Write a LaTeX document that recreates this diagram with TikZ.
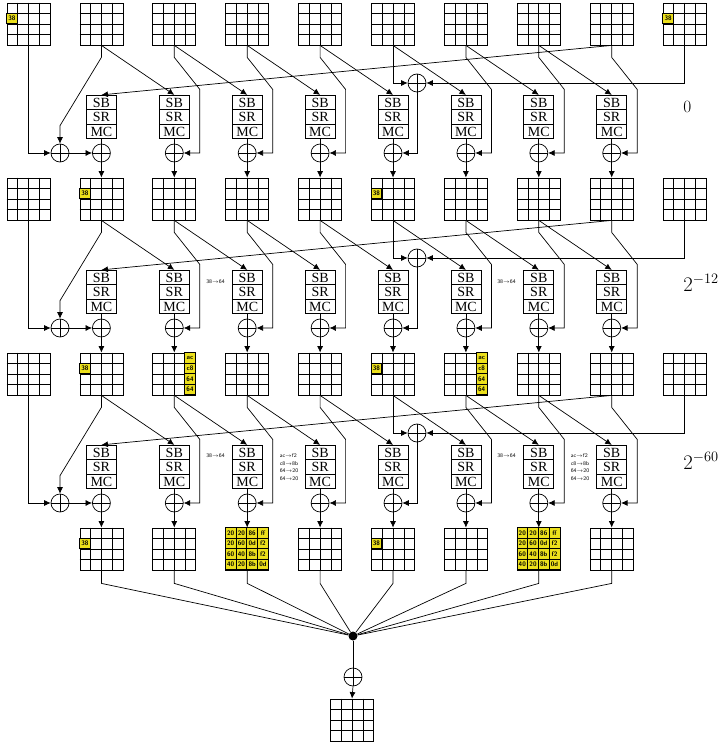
\documentclass[tikz,border=0pt]{standalone}
\usepackage{amsmath}
\usepackage{fontspec}
\newfontfamily\sbfont{Liberation Serif}
\usetikzlibrary{arrows.meta,calc,shapes.multipart}
\definecolor{hot}{RGB}{236,224,28}
% a 4x4 state word: name, x, y
\newcommand{\stategrid}[3]{%
  \node[wordbox] (#1) at (#2,#3) {};
  \foreach \i in {1,2,3} {
    \draw ($(#1.north west)!\i/4!(#1.north east)$) -- ($(#1.south west)!\i/4!(#1.south east)$);
    \draw ($(#1.north west)!\i/4!(#1.south west)$) -- ($(#1.north east)!\i/4!(#1.south east)$);
  }}
% an active byte: grid, row, column, value
\newcommand{\hotcell}[4]{\node[hotbyte] (#1-#2#3) at ($(#1.north west)+(#3*10.75+5.375,#2*10.5+5.25)$) {#4};}
\tikzset{
  flow/.style={>={Latex[length=6.5pt,width=6pt]},line width=0.7pt},
  wordbox/.style={draw,line width=0.8pt,minimum width=43pt,minimum height=42pt,inner sep=0pt},
  hotbyte/.style={draw,line width=0.8pt,fill=hot,minimum width=10.75pt,minimum height=10.5pt,
    inner sep=0pt,font=\sffamily\bfseries\fontsize{6.5}{6.5}\selectfont},
  sbox/.style={draw,rectangle split,rectangle split parts=3,minimum width=30pt,
    inner ysep=2.2pt,inner xsep=2pt,fill=white,font=\sbfont\fontsize{14}{16}\selectfont},
  xorop/.style={draw,circle,fill=white,minimum size=18pt,inner sep=0pt,
    path picture={\draw (path picture bounding box.north)--(path picture bounding box.south)
      (path picture bounding box.west)--(path picture bounding box.east);}},
  note/.style={font=\sffamily\fontsize{5.5}{7.6}\selectfont,align=left,inner sep=0.5pt,fill=white},
  prob/.style={font=\huge,anchor=base west,inner sep=0pt},
}

\begin{document}
\begin{tikzpicture}[flow,x=1pt,y=-1pt]
\useasboundingbox (0,0) rectangle (722,743);
% state words
\foreach \r in {0,1,2} \foreach \k in {0,...,9} \stategrid{g\r-\k}{28.5+72.9*\k}{24+175*\r};
\foreach \k in {1,...,8} \stategrid{g3-\k}{28.5+72.9*\k}{549};
\stategrid{gf}{352}{720}
% rounds
\foreach \r in {0,1,2} {
  \pgfmathsetmacro\ty{3+175*\r}
  \pgfmathtruncatemacro\rn{\r+1}
  \foreach \k in {1,...,8} {
    \node[sbox] (sb\r-\k) at (28.5+72.9*\k,\ty+114) {SB\nodepart{two}SR\nodepart{three}MC};
    \node[xorop] (x\r-\k) at (28.5+72.9*\k,\ty+150) {};
  }
  \node[xorop] (x\r-0) at (60,\ty+150) {};
  \node[xorop] (xm\r) at (417,\ty+80) {};
  \draw[->] (g\r-0.south) |- (x\r-0.west);
  \draw[->] (g\r-1.south) -- ++(0,12) -- ($(x\r-0.north)+(0,-18)$) -- (x\r-0.north);
  \draw[->] (x\r-0.east) -- (x\r-1.west);
  \foreach \k [evaluate=\k as \j using int(\k+1)] in {1,...,7} \draw[->] (g\r-\k.south) -- (sb\r-\j.north);
  \draw[->] (g\r-8.south) -- (sb\r-1.north);
  \foreach \k in {2,3,4,6,7,8} \draw[->] (g\r-\k.south) -- ++(0,12) -- ++(25.5,32) |- (x\r-\k.east);
  \draw[->] (g\r-5.south) |- (xm\r.west);
  \draw[->] (g\r-9.south) |- (xm\r.east);
  \draw[->] (xm\r.south) |- (x\r-5.east);
  \foreach \k in {1,...,8} {
    \draw (sb\r-\k.south) -- (x\r-\k.north);
    \draw[->] (x\r-\k.south) -- (g\rn-\k.north);
  }
}
% active bytes
\foreach \g in {g0-0,g0-9,g1-1,g1-5,g2-1,g2-5,g3-1,g3-5} \hotcell{\g}{1}{0}{38}
\foreach \g in {g2-2,g2-6} \foreach \v [count=\q from 0] in {ac,c8,64,64} \hotcell{\g}{\q}{3}{\v}
\foreach \g in {g3-3,g3-7} \foreach \pa/\pb/\pc/\pd [count=\q from 0] in
  {20/20/86/ff,20/60/0d/f2,60/40/8b/f2,40/20/8b/0d} {
  \hotcell{\g}{\q}{0}{\pa}\hotcell{\g}{\q}{1}{\pb}\hotcell{\g}{\q}{2}{\pc}\hotcell{\g}{\q}{3}{\pd}
}
% S-box transitions
\node[note] (n1a) at (215.5,281.5) {38$\to$64};
\node[note] (n1b) at (506.5,281.5) {38$\to$64};
\node[note] (n2a) at (215.5,456) {38$\to$64};
\node[note] (n2b) at (506.5,456) {38$\to$64};
\node[note,anchor=north] (n2c) at (289,453) {ac$\to$f2\\c8$\to$8b\\64$\to$20\\64$\to$20};
\node[note,anchor=north] (n2d) at (580,453) {ac$\to$f2\\c8$\to$8b\\64$\to$20\\64$\to$20};
% probabilities
\node[prob,font=\LARGE] (p0) at (683,113) {$0$};
\node[prob] (p1) at (683,291) {$2^{-12}$};
\node[prob] (p2) at (683,469) {$2^{-60}$};
% final combination
\node[circle,fill,inner sep=0pt,minimum size=9pt] (hub) at (353,636) {};
\foreach \k in {1,...,8} \draw (g3-\k.south) -- ++(0,13) -- (hub);
\node[xorop] (xf) at (353,677) {};
\draw (hub) -- (xf.north);
\draw[->] (xf.south) -- (gf.north);
\end{tikzpicture}
\end{document}
